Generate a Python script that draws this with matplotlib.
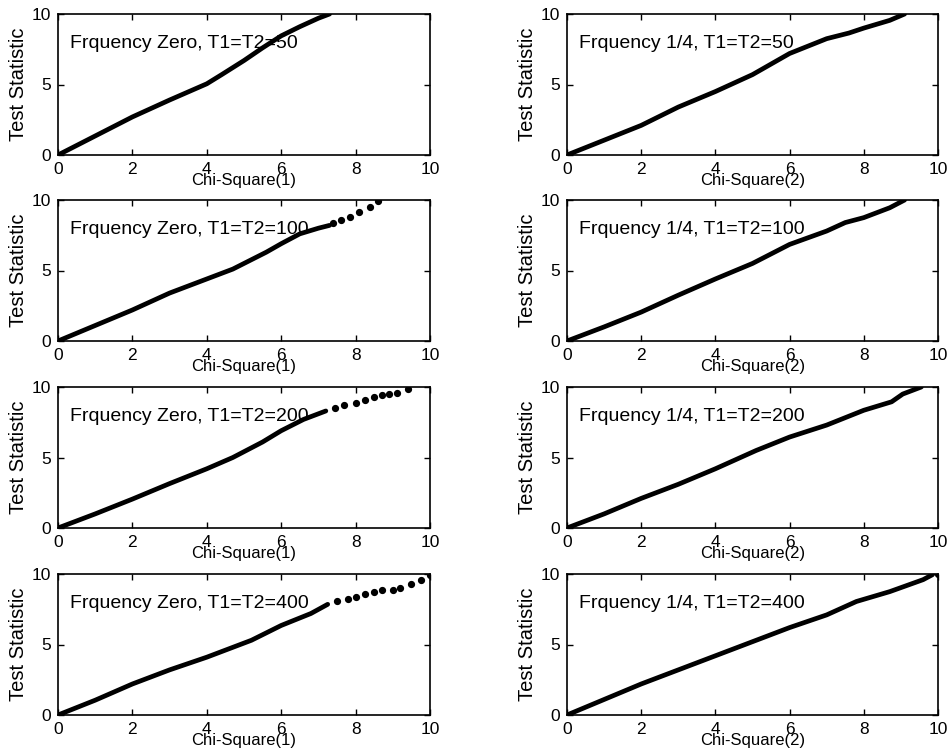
import matplotlib
matplotlib.use('Agg')
import matplotlib.pyplot as plt

plt.rcParams['font.family'] = ['Liberation Sans', 'DejaVu Sans']

# Panel titles, x labels (row by row, left then right)
TITLES = ['Frquency Zero, T1=T2=50', 'Frquency 1/4, T1=T2=50',
          'Frquency Zero, T1=T2=100', 'Frquency 1/4, T1=T2=100',
          'Frquency Zero, T1=T2=200', 'Frquency 1/4, T1=T2=200',
          'Frquency Zero, T1=T2=400', 'Frquency 1/4, T1=T2=400']
X_LABELS = ['Chi-Square(1)', 'Chi-Square(2)'] * 4
TICKS = [0, 2, 4, 6, 8, 10]
Y_TICKS = [0, 5, 10]

# Quantile curves (solid part)
zero_50_x = [0, 1.0, 2.0, 3.0, 4.0, 4.4, 5.0, 5.5, 6.0, 6.5, 7.0, 7.3]
zero_50_y = [0, 1.35, 2.7, 3.9, 5.05, 5.7, 6.7, 7.6, 8.45, 9.1, 9.7, 10.0]
quarter_50_x = [0, 1, 2, 3, 4, 5, 6, 7, 7.6, 8, 8.7, 9.1]
quarter_50_y = [0, 1.05, 2.1, 3.4, 4.5, 5.7, 7.2, 8.25, 8.65, 9.0, 9.55, 10]
zero_100_x = [0, 1, 2, 3, 4, 4.7, 5.6, 6, 6.5, 7, 7.3]
zero_100_y = [0, 1.1, 2.2, 3.4, 4.4, 5.1, 6.3, 6.9, 7.6, 8.0, 8.2]
quarter_100_x = [0, 1, 2, 3, 4, 5, 6, 7, 7.5, 8, 8.7, 9.1]
quarter_100_y = [0, 1.0, 2.05, 3.25, 4.4, 5.5, 6.85, 7.8, 8.4, 8.75, 9.45, 10]
zero_200_x = [0, 1, 2, 3, 4, 4.7, 5.5, 6, 6.6, 7.2]
zero_200_y = [0, 1.0, 2.05, 3.15, 4.2, 5.0, 6.1, 6.9, 7.7, 8.3]
quarter_200_x = [0, 1, 2, 3, 4, 5.1, 6, 7, 8, 8.75, 9.05, 9.55]
quarter_200_y = [0, 1.0, 2.1, 3.1, 4.2, 5.5, 6.45, 7.3, 8.35, 8.95, 9.5, 10]
zero_400_x = [0, 1, 2, 3, 4, 5.2, 6, 6.8, 7.25]
zero_400_y = [0, 1.05, 2.2, 3.2, 4.1, 5.3, 6.35, 7.2, 7.85]
quarter_400_x = [0, 1, 2, 3, 4, 5, 6, 7, 7.8, 8.7, 9.6, 9.85]
quarter_400_y = [0, 1.1, 2.2, 3.2, 4.2, 5.2, 6.2, 7.1, 8.05, 8.75, 9.6, 9.95]

# Sparse upper tails (drawn as separate dots)
zero_100_tail_x = [7.4, 7.6, 7.85, 8.1, 8.4, 8.6]
zero_100_tail_y = [8.35, 8.55, 8.8, 9.15, 9.5, 9.95]
zero_200_tail_x = [7.45, 7.7, 8.0, 8.25, 8.5, 8.7, 8.9, 9.1, 9.4]
zero_200_tail_y = [8.5, 8.75, 8.9, 9.1, 9.3, 9.4, 9.5, 9.6, 9.85]
zero_400_tail_x = [7.5, 7.8, 8.0, 8.25, 8.5, 8.7, 9.0, 9.2, 9.5, 9.75, 10.0]
zero_400_tail_y = [8.1, 8.25, 8.35, 8.6, 8.75, 8.85, 8.9, 9.0, 9.3, 9.55, 9.9]
quarter_400_tail_x = [10.0]
quarter_400_tail_y = [10.0]

CURVES = [(zero_50_x, zero_50_y), (quarter_50_x, quarter_50_y),
          (zero_100_x, zero_100_y), (quarter_100_x, quarter_100_y),
          (zero_200_x, zero_200_y), (quarter_200_x, quarter_200_y),
          (zero_400_x, zero_400_y), (quarter_400_x, quarter_400_y)]
TAILS = [None, None,
         (zero_100_tail_x, zero_100_tail_y), None,
         (zero_200_tail_x, zero_200_tail_y), None,
         (zero_400_tail_x, zero_400_tail_y),
         (quarter_400_tail_x, quarter_400_tail_y)]

W, H = 950, 753
fig = plt.figure(figsize=(W / 100, H / 100), dpi=100)

# Axes boxes in pixels (left, top) of each column / row
col_left = [58, 567]
col_width = [372, 371]
row_top = [14, 200, 387, 574]
ax_height = 141

for i in range(8):
    r, c = divmod(i, 2)
    rect = [col_left[c] / W, 1 - (row_top[r] + ax_height) / H,
            col_width[c] / W, ax_height / H]
    ax = fig.add_axes(rect)
    x, y = CURVES[i]
    ax.plot(x, y, color='black', lw=3.4, solid_capstyle='round',
            solid_joinstyle='round')
    if TAILS[i] is not None:
        tx, ty = TAILS[i]
        ax.plot(tx, ty, color='black', lw=0, marker='o', markersize=4.2)
    ax.set_xlim(0, 10)
    ax.set_ylim(0, 10)
    ax.set_xticks(TICKS)
    ax.set_yticks(Y_TICKS)
    # MATLAB-like box with inward ticks on every side
    ax.tick_params(direction='in', length=4, width=1, top=True, right=True,
                   labelsize=12.5, pad=5)
    for s in ax.spines.values():
        s.set_linewidth(1.2)
    ax.set_xlabel(X_LABELS[i], fontsize=12, labelpad=-3)
    ax.set_ylabel('Test Statistic', fontsize=14.5, labelpad=3)
    ax.text(0.32, 7.9, TITLES[i], fontsize=14, va='center', ha='left')

fig.savefig('out.png', dpi=100)
